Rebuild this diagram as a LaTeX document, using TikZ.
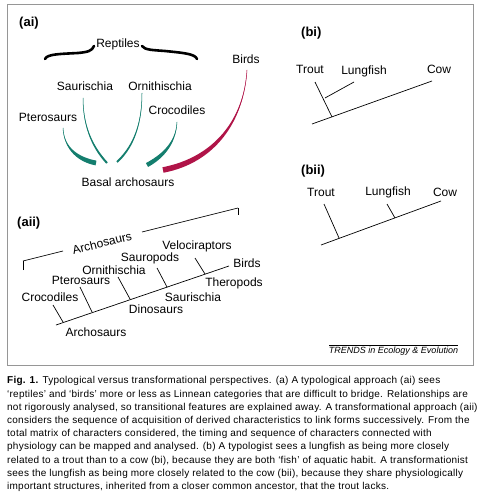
\documentclass[tikz,border=0pt]{standalone}
\usepackage{fontspec}
\setmainfont{Liberation Sans}
\newfontfamily\capfont[LetterSpace=2.4]{Liberation Sans}
\usetikzlibrary{calc}
\definecolor{stemteal}{RGB}{20,126,110}
\definecolor{stemred}{RGB}{176,20,72}
\definecolor{framegray}{RGB}{150,150,150}
% tapered stem: colour, thin end, control 1, control 2, thick end, half width
\newcommand{\limb}[6]{%
  \coordinate (lb) at ($(#5)!#6!90:(#4)$);
  \coordinate (rb) at ($(#5)!#6!-90:(#4)$);
  \fill[#1] (#2) .. controls ($(#3)+0.4*(lb)-0.4*(#5)$) and ($(#4)+(lb)-(#5)$) .. (lb)
    -- (rb) .. controls ($(#4)+(rb)-(#5)$) and ($(#3)+0.4*(rb)-0.4*(#5)$) .. (#2);
  \draw[#1,line width=0.5pt] (#2) .. controls (#3) and (#4) .. (#5);}

\begin{document}
\begin{tikzpicture}
[x=1pt,y=-1pt,every node/.style={font=\fontsize{12}{14}\selectfont,inner sep=0pt},
 panel/.style={anchor=west,font=\fontsize{13}{15}\selectfont\bfseries},
 branch/.style={line width=0.7pt}]
\useasboundingbox (0,0) rectangle (480,497);
\draw[framegray,line width=1pt] (7,5) rectangle (473,365);

% (ai)
\node[panel] (ai) at (19,23) {(ai)};
\node (rept) at (118,44) {Reptiles};
\draw[line width=2.6pt,line cap=round] (45,59) .. controls (47,54) and (60,54) .. (78,53)
  .. controls (88,52) and (92,51) .. (94,46);
\draw[line width=2.6pt,line cap=round] (142,46) .. controls (145,50) and (152,50) .. (165,51)
  .. controls (185,53) and (195,54) .. (197,59);
\node (saur1) at (85,86) {Saurischia};
\node (orni1) at (160,86) {Ornithischia};
\node (pter1) at (48,117) {Pterosaurs};
\node (croc1) at (177,110) {Crocodiles};
\node (bird1) at (246,59) {Birds};
\node (basal) at (128,182) {Basal archosaurs};
\limb{stemteal}{63,128}{64,150}{80,160}{96,163}{2.4pt}
\limb{stemteal}{83,98}{83,130}{95,150}{107,163}{1pt}
\limb{stemteal}{142,93}{142,130}{130,150}{117,162}{1pt}
\limb{stemteal}{177,122}{176,145}{160,158}{147,165}{2.2pt}
\limb{stemred}{247,70}{244,120}{215,160}{163,170}{2.8pt}

% (aii)
\node[panel] (aii) at (17,223) {(aii)};
\coordinate (k1) at (23,270);
\coordinate (k2) at (23,261);
\coordinate (k3) at (63,251);
\coordinate (k4) at (142,232);
\coordinate (k5) at (238,208);
\coordinate (k6) at (238,215);
\node[rotate=14] (arch) at (102,243) {Archosaurs};
\coordinate (r0) at (56,325);
\coordinate (r1) at (229,266);
\coordinate (j1) at (63,322);
\coordinate (j2) at (92,312);
\coordinate (j3) at (130,299);
\coordinate (j4) at (167,287);
\coordinate (j5) at (205,274);
\coordinate (t1) at (53,305);
\coordinate (t2) at (80,287);
\coordinate (t3) at (118,277);
\coordinate (t4) at (157,268);
\coordinate (t5) at (195,258);
\foreach \from/\to in {k1/k2,k2/k3,k4/k5,k5/k6,r0/r1,t1/j1,t2/j2,t3/j3,t4/j4,t5/j5}
\draw[branch] (\from) -- (\to);
\node (croc2) at (50,297) {Crocodiles};
\node (pter2) at (81,280) {Pterosaurs};
\node (orni2) at (114,270) {Ornithischia};
\node (saup) at (150,258) {Sauropods};
\node (velo) at (197,246) {Velociraptors};
\node (bird2) at (247,263) {Birds};
\node (ther) at (234,283) {Theropods};
\node (saur2) at (193,297) {Saurischia};
\node (dino) at (156,309) {Dinosaurs};
\node (arch2) at (96,332) {Archosaurs};

% (bi)
\node[panel] (bi) at (301,33) {(bi)};
\node (trout1) at (310,69) {Trout};
\node (lung1) at (364,71) {Lungfish};
\node (cow1) at (439,69) {Cow};
\coordinate (p0) at (312,124);
\coordinate (p1) at (432,81);
\coordinate (p2) at (315,82);
\coordinate (p3) at (332,117);
\coordinate (p4) at (354,82);
\coordinate (p5) at (325,98);
\foreach \from/\to in {p0/p1,p2/p3,p4/p5}
\draw[branch] (\from) -- (\to);

% (bii)
\node[panel] (bii) at (301,171) {(bii)};
\node (trout2) at (321,192) {Trout};
\node (lung2) at (388,192) {Lungfish};
\node (cow2) at (445,192) {Cow};
\coordinate (q0) at (321,245);
\coordinate (q1) at (441,201);
\coordinate (q2) at (324,204);
\coordinate (q3) at (339,238);
\coordinate (q4) at (387,204);
\coordinate (q5) at (395,218);
\foreach \from/\to in {q0/q1,q2/q3,q4/q5}
\draw[branch] (\from) -- (\to);

% footer and caption
\coordinate (f0) at (329,345);
\coordinate (f1) at (458,345);
\draw[line width=0.5pt] (f0) -- (f1);
\node[font=\fontsize{9}{11}\selectfont\itshape] (trends) at (393.5,351) {TRENDS in Ecology \& Evolution};
\node[anchor=north west,align=left,font=\capfont\fontsize{10}{13.2}\selectfont] (caption) at (7,376.5)
{\textbf{Fig. 1.} Typological versus transformational perspectives. (a) A typological approach (ai) sees\\
‘reptiles’ and ‘birds’ more or less as Linnean categories that are difficult to bridge. Relationships are\\
not rigorously analysed, so transitional features are explained away. A transformational approach (aii)\\
considers the sequence of acquisition of derived characteristics to link forms successively. From the\\
total matrix of characters considered, the timing and sequence of characters connected with\\
physiology can be mapped and analysed. (b) A typologist sees a lungfish as being more closely\\
related to a trout than to a cow (bi), because they are both ‘fish’ of aquatic habit. A transformationist\\
sees the lungfish as being more closely related to the cow (bii), because they share physiologically\\
important structures, inherited from a closer common ancestor, that the trout lacks.};
\end{tikzpicture}
\end{document}
